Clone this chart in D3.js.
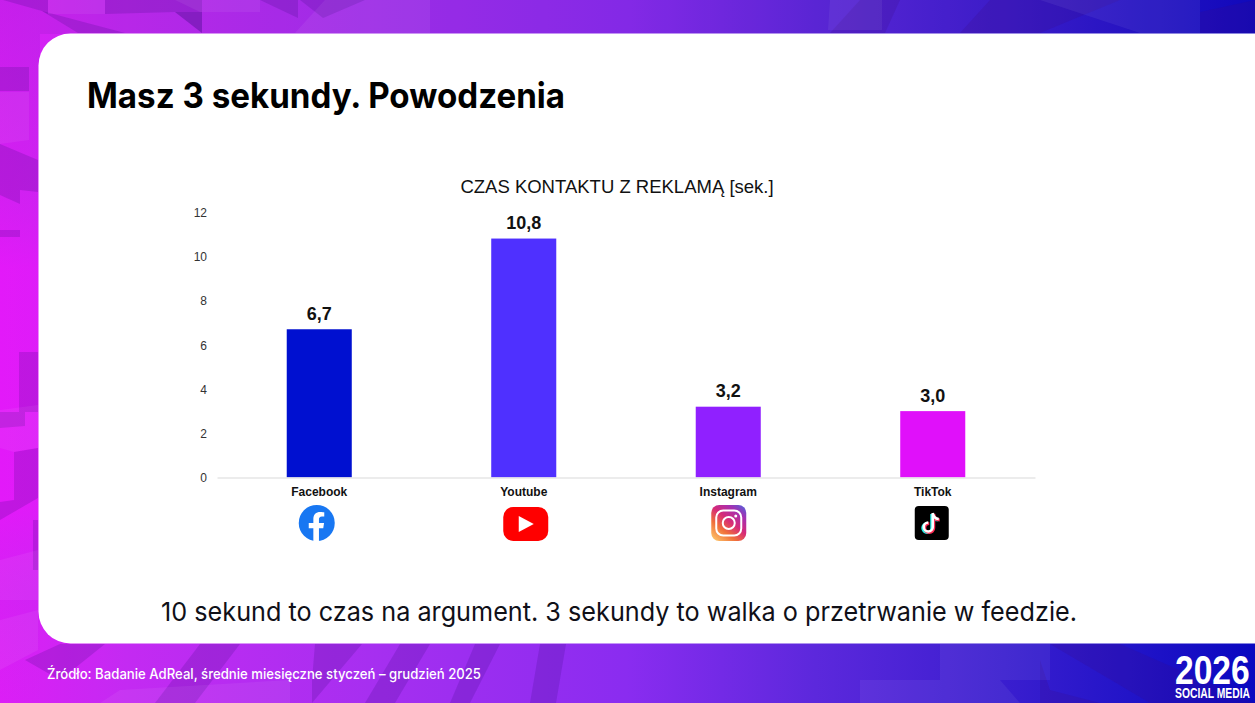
<!DOCTYPE html>
<html lang="pl">
<head>
<meta charset="utf-8">
<title>Masz 3 sekundy. Powodzenia</title>
<script src="https://cdn.jsdelivr.net/npm/d3@7"></script>
<style>
  html, body { margin: 0; padding: 0; background: #fff; overflow: hidden; }
  svg { display: block; }
</style>
</head>
<body>
<svg id="slide" width="1255" height="703"></svg>
<script>
// chart data
const platforms = ['Facebook', 'Youtube', 'Instagram', 'TikTok'];
const contactSeconds = [6.7, 10.8, 3.2, 3.0];
const barColors = ['#0010d0', '#4f30ff', '#9020ff', '#e010fa'];
const yTicks = [0, 2, 4, 6, 8, 10, 12];

const W = 1255, H = 703;
const svg = d3.select('#slide');
const defs = svg.append('defs');

// background: horizontal gradient plus flat facets
const bgStops = [[0, '#dc1ef6'], [0.1, '#c42af2'], [0.3, '#a62ff0'], [0.5, '#8a2cf0'], [0.65, '#5c28dc'], [0.8, '#3a1ecf'], [0.9, '#2214c8'], [1, '#0a08c0']];
const bg = defs.append('linearGradient').attr('id', 'bg');
bg.selectAll('stop').data(bgStops).enter().append('stop')
  .attr('offset', d => d[0]).attr('stop-color', d => d[1]);
svg.append('rect').attr('width', W).attr('height', H).attr('fill', 'url(#bg)');

// left strip shifts from muted purple at the top to hot magenta in the middle
const stripStops = [[0, '#a020d8', 0.35], [0.28, '#c020e8', 0.25], [0.38, '#f010ff', 0.35], [0.72, '#f010ff', 0.35], [0.85, '#c028f0', 0.2], [1, '#c028f0', 0]];
const strip = defs.append('linearGradient').attr('id', 'strip').attr('x2', 0).attr('y2', 1);
strip.selectAll('stop').data(stripStops).enter().append('stop')
  .attr('offset', d => d[0]).attr('stop-color', d => d[1]).attr('stop-opacity', d => d[2]);
svg.append('rect').attr('width', 40).attr('height', H).attr('fill', 'url(#strip)');
svg.append('rect').attr('x', 40).attr('width', W).attr('height', 34).attr('fill', '#4a1090').attr('opacity', 0.1);

const darkFacets = [
  'M3,0 48,0 48,14 42,11 3,0z', 'M42,11 125,33 78,33z', 'M105,0 202,0 202,33 175,12 105,14z',
  'M175,12 202,12 202,33z', 'M260,0 298,0 298,18 260,0z', 'M300,0 365,0 323,18z',
  'M0,67 29,67 29,91 0,91z', 'M0,144 38,160 38,192 20,190 20,204 0,195z', 'M0,230 20,230 20,237 0,237z',
  'M19,352 38,352 38,412 19,412z', 'M0,412 25,412 25,426 0,428z', 'M14,452 38,448 38,498 0,520 0,502 14,500z',
  'M33,520 38,520 38,570 33,570z', 'M60,644 105,644 60,680 25,660z', 'M200,644 240,644 195,703 155,703z',
  'M315,644 362,644 312,703 312,680z', 'M400,644 430,644 395,703 365,703z', 'M475,644 500,644 470,703 450,703z',
  'M540,644 566,644 556,703 530,703z', 'M1050,644 1120,644 1255,703 1150,703z', 'M1040,660 1050,690 1100,703 1040,703z',
  'M860,0 900,0 885,33 830,33z', 'M990,0 1120,0 1040,33 960,33z', 'M1200,12 1255,0 1255,33 1200,33z'
];
const lightFacets = [
  'M48,0 105,0 105,14 48,14z', 'M175,0 260,0 260,12 200,12z', 'M325,0 430,0 430,33 295,33z',
  'M0,92 29,92 29,140 0,144z', 'M0,410 38,405 38,448 14,452 0,448z', 'M0,560 38,550 38,600 0,600z',
  'M0,620 38,610 38,650 0,670z', 'M830,0 882,0 882,30 828,30z', 'M1040,0 1200,0 1200,33 1140,33z',
  'M940,644 1050,644 1050,680 940,680z', 'M860,680 1000,680 1020,703 860,703z', 'M120,690 290,680 290,703 100,703z'
];
const facets = svg.append('g');
facets.selectAll('.dark').data(darkFacets).enter().append('path')
  .attr('class', 'dark').attr('d', d => d).attr('fill', '#3a0a80').attr('opacity', 0.2);
facets.selectAll('.light').data(lightFacets).enter().append('path')
  .attr('class', 'light').attr('d', d => d).attr('fill', '#fff').attr('opacity', 0.06);

// white card, runs off the right edge
svg.append('rect')
  .attr('x', 38.5).attr('y', 33.5).attr('width', W).attr('height', 610)
  .attr('rx', 32).attr('fill', '#fff');

// slide texts
const slideFont = 'Inter, "Noto Sans", sans-serif';
svg.append('text').attr('x', 87).attr('y', 107.5)
  .attr('font-family', slideFont).attr('font-weight', 700).attr('font-size', 35).attr('fill', '#000')
  .attr('textLength', 478).attr('lengthAdjust', 'spacingAndGlyphs')
  .text('Masz 3 sekundy. Powodzenia');
svg.append('text').attr('x', 161).attr('y', 621)
  .attr('font-family', slideFont).attr('font-size', 26).attr('fill', '#101018')
  .attr('textLength', 916).attr('lengthAdjust', 'spacingAndGlyphs')
  .text('10 sekund to czas na argument. 3 sekundy to walka o przetrwanie w feedzie.');
svg.append('text').attr('x', 47).attr('y', 678.5)
  .attr('font-family', slideFont).attr('font-weight', 500).attr('font-size', 14.5).attr('fill', '#fff')
  .attr('textLength', 434).attr('lengthAdjust', 'spacingAndGlyphs')
  .text('Źródło: Badanie AdReal, średnie miesięczne styczeń – grudzień 2025');

// logo, stretched tall to get the condensed look
const logoFont = '"Liberation Sans", sans-serif';
svg.append('text').attr('transform', 'translate(1175,684) scale(1.12,1.38)')
  .attr('font-family', logoFont).attr('font-weight', 700).attr('font-size', 30).attr('fill', '#fff')
  .text('2026');
svg.append('text').attr('transform', 'translate(1175,697.5) scale(0.9,1.3)')
  .attr('font-family', logoFont).attr('font-weight', 700).attr('font-size', 11.5).attr('fill', '#fff')
  .text('SOCIAL MEDIA');

// chart
const chartFont = '"Liberation Sans", Arial, sans-serif';
const x = d3.scaleBand().domain(platforms).range([217, 1035]).paddingInner(0.682).paddingOuter(0.341);
const y = d3.scaleLinear().domain([0, 12]).range([477.5, 212]);
const plLocale = d3.formatLocale({ decimal: ',', thousands: ' ', grouping: [3], currency: ['', ' zł'] });
const formatValue = plLocale.format('.1f');

svg.append('text').attr('x', 617).attr('y', 193)
  .attr('text-anchor', 'middle').attr('font-family', chartFont).attr('font-size', 18.5).attr('fill', '#111')
  .text('CZAS KONTAKTU Z REKLAMĄ [sek.]');

const yAxis = svg.append('g').attr('transform', 'translate(217,0.5)')
  .call(d3.axisLeft(y).tickValues(yTicks).tickSize(0).tickPadding(10));
yAxis.select('.domain').remove();
yAxis.selectAll('text').attr('font-family', chartFont).attr('font-size', 12).attr('fill', '#333');

const bars = svg.append('g').selectAll('rect')
  .data(platforms).enter().append('rect')
  .attr('x', d => x(d))
  .attr('y', (d, i) => y(contactSeconds[i]))
  .attr('width', x.bandwidth())
  .attr('height', (d, i) => y(0) - y(contactSeconds[i]))
  .attr('fill', (d, i) => barColors[i]);

svg.append('g').selectAll('text')
  .data(platforms).enter().append('text')
  .attr('x', d => x(d) + x.bandwidth() / 2)
  .attr('y', (d, i) => y(contactSeconds[i]) - 9.5)
  .attr('text-anchor', 'middle')
  .attr('font-family', chartFont).attr('font-weight', 700).attr('font-size', 18).attr('fill', '#111')
  .text((d, i) => formatValue(contactSeconds[i]));

const xAxis = svg.append('g').attr('transform', `translate(0,${y(0)})`)
  .call(d3.axisBottom(x).tickSize(0).tickPadding(10).tickSizeOuter(0));
xAxis.select('.domain').attr('stroke', '#e6e6e6').attr('stroke-width', 1.5);
xAxis.selectAll('text').attr('font-family', chartFont).attr('font-weight', 700).attr('font-size', 12).attr('fill', '#111');

// platform icons, placed relative to the band centre
const igGrad = defs.append('linearGradient').attr('id', 'ig')
  .attr('x1', 0.1).attr('y1', 1).attr('x2', 0.9).attr('y2', 0);
[[0, '#fdc468'], [0.3, '#f0703a'], [0.55, '#d62a78'], [0.8, '#a62fb0'], [1, '#5b5bd6']].forEach(s =>
  igGrad.append('stop').attr('offset', s[0]).attr('stop-color', s[1]));

function iconGroup(name, dx, cy) {
  return svg.append('g').attr('transform', `translate(${x(name) + x.bandwidth() / 2 + dx},${cy})`);
}

const fb = iconGroup('Facebook', -2.5, 523);
fb.append('circle').attr('r', 18).attr('fill', '#1877f2');
fb.append('path').attr('fill', '#fff')
  .attr('d', 'M-3.4,18 L-3.4,5.2 L-8,5.2 L-8,0 L-3.4,0 L-3.4,-4 C-3.4,-8.6 -0.7,-11.1 3.4,-11.1 C5.4,-11.1 7.5,-10.8 7.5,-10.8 L7.5,-6.4 L5.2,-6.4 C2.9,-6.4 2.2,-5 2.2,-3.5 L2.2,0 L7.3,0 L6.5,5.2 L2.2,5.2 L2.2,18 Z');

const yt = iconGroup('Youtube', 2, 524);
yt.append('rect').attr('x', -22.5).attr('y', -17).attr('width', 45).attr('height', 34).attr('rx', 10).attr('fill', '#f00');
yt.append('path').attr('d', 'M-7,-8 L8,0 L-7,8 Z').attr('fill', '#fff');

const ig = iconGroup('Instagram', 0.5, 523);
ig.append('rect').attr('x', -17.5).attr('y', -18).attr('width', 35).attr('height', 36).attr('rx', 8).attr('fill', 'url(#ig)');
ig.append('rect').attr('x', -12.5).attr('y', -12.5).attr('width', 25).attr('height', 25).attr('rx', 7)
  .attr('fill', 'none').attr('stroke', '#fff').attr('stroke-width', 2);
ig.append('circle').attr('r', 6).attr('fill', 'none').attr('stroke', '#fff').attr('stroke-width', 2);
ig.append('circle').attr('cx', 7).attr('cy', -7).attr('r', 1.5).attr('fill', '#fff');

const tt = iconGroup('TikTok', -1, 523);
tt.append('rect').attr('x', -17).attr('y', -17).attr('width', 34).attr('height', 34).attr('rx', 4).attr('fill', '#000');
const noteShape = 'M1,-10 L1,4 A4.5,4.5 0 1 1 -3.5,-0.5 M1,-10 C1.5,-6 4,-4.2 7,-4';
tt.append('path').attr('d', noteShape).attr('transform', 'translate(-1,1)').attr('fill', 'none').attr('stroke', '#25f4ee').attr('stroke-width', 3);
tt.append('path').attr('d', noteShape).attr('transform', 'translate(1,1)').attr('fill', 'none').attr('stroke', '#fe2c55').attr('stroke-width', 3);
tt.append('path').attr('d', noteShape).attr('fill', 'none').attr('stroke', '#fff').attr('stroke-width', 2.6);
</script>
</body>
</html>
